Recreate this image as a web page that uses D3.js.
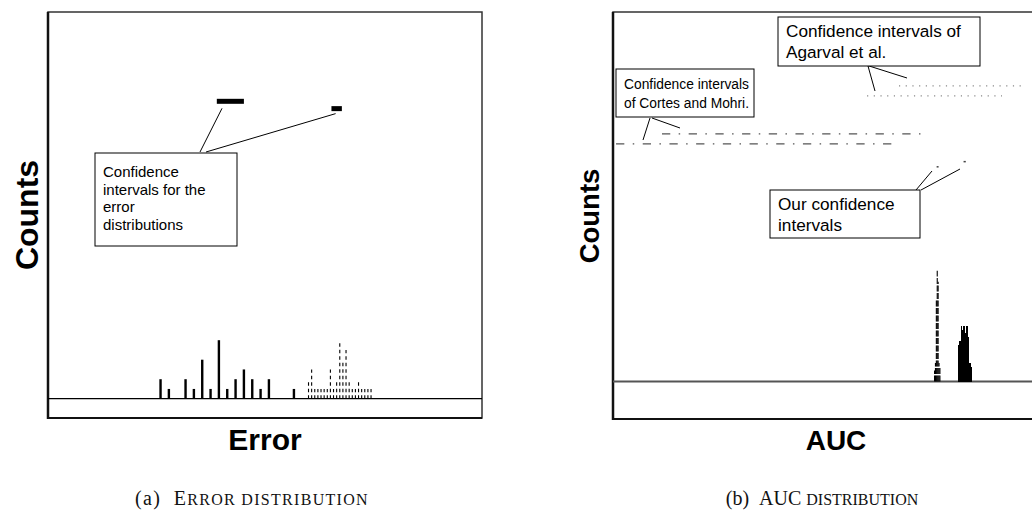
<!DOCTYPE html>
<html>
<head>
<meta charset="utf-8">
<script src="https://cdn.jsdelivr.net/npm/d3@7"></script>
<style>
  html, body { margin: 0; padding: 0; background: #fff; }
  svg { display: block; }
</style>
</head>
<body>
<svg id="fig" width="1032" height="510"></svg>
<script>
// ---- Panel (a): error histograms ----
const errBinsA   = [0.10,0.12,0.14,0.16,0.18,0.20,0.22,0.24,0.26,0.28,0.30,0.32,0.34,0.36,0.38,0.40,0.42];
const errCountsA = [2,1,0,2,1,4,1,6,1,2,3,2,1,2,0,0,1];
const errBinsB   = [0.455,0.4625,0.47,0.4775,0.485,0.4925,0.5,0.5075,0.515,0.5225,0.53,0.5375,0.545,0.5525,0.56,0.5675,0.575,0.5825,0.59,0.5975,0.605];
const errCountsB = [2,3,1,1,1,1,1,3,1,2,6,4,5,2,1,1,2,1,1,1,1];
// confidence intervals for the two error distributions: [lo, hi, level]
const errCI = [[0.235, 0.300, 30.5], [0.510, 0.535, 29.75]];

// ---- Panel (b): AUC histograms ----
const aucBinsA   = [0.8605,0.8615,0.8625,0.8635,0.8645,0.8655,0.8665];
const aucCountsA = [3,5,22,30,27,5,4];
const aucBinsB   = [0.887,0.888,0.889,0.890,0.891,0.892,0.893,0.894,0.895,0.896,0.897,0.898,0.899,0.900,0.901,0.902];
const aucCountsB = [10,10,11,10,15,14,15,15,13,15,15,12,5,5,5,4];
// intervals: [lo, hi, level]
const ciCortes  = [[0.5549, 0.8498, 67.0], [0.5034, 0.8139, 64.3]];
const ciAgarval = [[0.8206, 0.9619, 80.0], [0.7848, 0.9361, 77.3]];
const ciOurs    = [[0.8628, 0.8650, 58.1], [0.8930, 0.8955, 59.5]];

const svg = d3.select("#fig");
const SANS = "Liberation Sans, Arial, sans-serif";

// scales
const xErr = d3.scaleLinear().domain([-0.17, 0.8712]).range([48, 482]);
const yErr = d3.scaleLinear().domain([0, 39.66]).range([398.7, 12]);
const xAuc = d3.scaleLinear().domain([0.5, 1.0]).range([613, 1059]);
const yAuc = d3.scaleLinear().domain([0, 100]).range([381.5, 12]);

function frame(g, x0, x1, y0, y1) {
  g.append("rect").attr("x", x0).attr("y", y0).attr("width", x1 - x0).attr("height", y1 - y0)
    .attr("fill", "none").attr("stroke", "#333").attr("stroke-width", 1.5);
  g.append("line").attr("x1", x0).attr("x2", x0).attr("y1", y0).attr("y2", y1 + 1)
    .attr("stroke", "#111").attr("stroke-width", 2.5);
  g.append("line").attr("x1", x0).attr("x2", x1).attr("y1", y1).attr("y2", y1)
    .attr("stroke", "#111").attr("stroke-width", 2.2);
}

function leader(g, pts) {
  g.append("line").attr("x1", pts[0]).attr("y1", pts[1]).attr("x2", pts[2]).attr("y2", pts[3])
    .attr("stroke", "#000").attr("stroke-width", 1);
}

function noteBox(g, x, y, w, h, lines, fs, first, lh) {
  g.append("rect").attr("x", x).attr("y", y).attr("width", w).attr("height", h)
    .attr("fill", "#fff").attr("stroke", "#000").attr("stroke-width", 1);
  g.append("text").attr("font-family", SANS).attr("font-size", fs)
    .selectAll("tspan").data(lines).join("tspan")
    .attr("x", x + 8).attr("y", (d, i) => y + first + i * lh).text(d => d);
}

// ================= Panel (a) =================
const ga = svg.append("g");
frame(ga, 48, 482, 12, 418);

ga.append("line").attr("x1", 48).attr("x2", 482).attr("y1", yErr(0)).attr("y2", yErr(0))
  .attr("stroke", "#000").attr("stroke-width", 1.3);

// solid histogram
ga.selectAll("rect.barA").data(errBinsA.map((b, i) => [b, errCountsA[i]])).join("rect")
  .attr("class", "barA")
  .attr("x", d => xErr(d[0]) - 1.2).attr("width", 2.4)
  .attr("y", d => yErr(d[1])).attr("height", d => yErr(0) - yErr(d[1]))
  .attr("fill", "#000");

// dashed histogram
ga.selectAll("line.barB").data(errBinsB.map((b, i) => [b, errCountsB[i]])).join("line")
  .attr("class", "barB")
  .attr("x1", d => xErr(d[0])).attr("x2", d => xErr(d[0]))
  .attr("y1", yErr(0)).attr("y2", d => yErr(d[1]))
  .attr("stroke", "#000").attr("stroke-width", 1.1)
  .attr("stroke-dasharray", "3.5,3");

// confidence intervals
ga.selectAll("line.ci").data(errCI).join("line")
  .attr("class", "ci")
  .attr("x1", d => xErr(d[0])).attr("x2", d => xErr(d[1]))
  .attr("y1", d => yErr(d[2])).attr("y2", d => yErr(d[2]))
  .attr("stroke", "#000").attr("stroke-width", 5);

leader(ga, [200, 152, xErr(0.2475), yErr(errCI[0][2]) + 7]);
leader(ga, [206, 152, xErr(0.520), yErr(errCI[1][2]) + 5]);
noteBox(ga, 95, 153, 142, 93, ["Confidence", "intervals for the", "error", "distributions"], 15, 24, 17.6);

ga.append("text").attr("x", 265).attr("y", 450).attr("text-anchor", "middle")
  .attr("font-family", SANS).attr("font-weight", "bold")
  .attr("font-size", 30).text("Error");
ga.append("text").attr("transform", "translate(38,215) rotate(-90)").attr("text-anchor", "middle")
  .attr("font-family", SANS).attr("font-weight", "bold")
  .attr("font-size", 32).text("Counts");

// ================= Panel (b) =================
const gb = svg.append("g");
frame(gb, 613, 1060, 12, 419);

gb.append("line").attr("x1", 613).attr("x2", 1060).attr("y1", yAuc(0)).attr("y2", yAuc(0))
  .attr("stroke", "#555").attr("stroke-width", 1.8);

// dashed narrow histogram
gb.selectAll("line.aucA").data(aucBinsA.map((b, i) => [b, aucCountsA[i]])).join("line")
  .attr("class", "aucA")
  .attr("x1", d => xAuc(d[0])).attr("x2", d => xAuc(d[0]))
  .attr("y1", yAuc(0)).attr("y2", d => yAuc(d[1]))
  .attr("stroke", "#000").attr("stroke-width", 1.1)
  .attr("stroke-dasharray", "6,1.5");

// solid histogram
gb.selectAll("rect.aucB").data(aucBinsB.map((b, i) => [b, aucCountsB[i]])).join("rect")
  .attr("class", "aucB")
  .attr("x", d => xAuc(d[0]) - 0.55).attr("width", 1.1)
  .attr("y", d => yAuc(d[1])).attr("height", d => yAuc(0) - yAuc(d[1]))
  .attr("fill", "#000").attr("shape-rendering", "crispEdges");

// interval lines
gb.selectAll("line.cortes").data(ciCortes).join("line")
  .attr("class", "cortes")
  .attr("x1", d => xAuc(d[0])).attr("x2", d => xAuc(d[1]))
  .attr("y1", d => yAuc(d[2])).attr("y2", d => yAuc(d[2]))
  .attr("stroke", "#555").attr("stroke-width", 1.2)
  .attr("stroke-dasharray", "8.3,8.4,1.5,8.5");

gb.selectAll("line.agarval").data(ciAgarval).join("line")
  .attr("class", "agarval")
  .attr("x1", d => xAuc(d[0])).attr("x2", d => xAuc(d[1]))
  .attr("y1", d => yAuc(d[2])).attr("y2", d => yAuc(d[2]))
  .attr("stroke", "#888").attr("stroke-width", 1.2)
  .attr("stroke-dasharray", "1.2,5.5");

gb.selectAll("line.ours").data(ciOurs).join("line")
  .attr("class", "ours")
  .attr("x1", d => xAuc(d[0])).attr("x2", d => xAuc(d[1]))
  .attr("y1", d => yAuc(d[2])).attr("y2", d => yAuc(d[2]))
  .attr("stroke", "#444").attr("stroke-width", 1.5);

// leader lines
leader(gb, [650, 118, 643, 140]);
leader(gb, [652, 118, 680, 128]);
leader(gb, [868, 66, 875, 91]);
leader(gb, [866, 65, 907, 78]);
leader(gb, [916, 190, 932, 171]);
leader(gb, [921, 190, 960, 169]);

noteBox(gb, 778, 17, 202, 49, ["Confidence intervals of", "Agarval et al."], 17.2, 20, 21);
noteBox(gb, 616, 69, 138, 48, ["Confidence intervals", "of Cortes and Mohri."], 13.8, 19.5, 19);
noteBox(gb, 770, 190, 150, 48, ["Our confidence", "intervals"], 17.2, 19.5, 21);

gb.append("text").attr("x", 836).attr("y", 450).attr("text-anchor", "middle")
  .attr("font-family", SANS).attr("font-weight", "bold")
  .attr("font-size", 28).text("AUC");
gb.append("text").attr("transform", "translate(599,216) rotate(-90)").attr("text-anchor", "middle")
  .attr("font-family", SANS).attr("font-weight", "bold")
  .attr("font-size", 27.5).text("Counts");

// ---- sub-captions (small caps) ----
function caption(x, spacing, parts) {
  const t = svg.append("text").attr("x", x).attr("y", 505).attr("text-anchor", "middle")
    .attr("font-family", "Liberation Serif, Times New Roman, serif").attr("fill", "#111")
    .attr("letter-spacing", spacing);
  parts.forEach(p => t.append("tspan").attr("font-size", p[1]).text(p[0]));
}
caption(252, 1.3, [["(a)\u00A0\u00A0", 20], ["E", 20], ["RROR DISTRIBUTION", 16]]);
caption(822, 0, [["(b)\u00A0\u00A0", 20], ["AUC ", 20], ["DISTRIBUTION", 16]]);
</script>
</body>
</html>
